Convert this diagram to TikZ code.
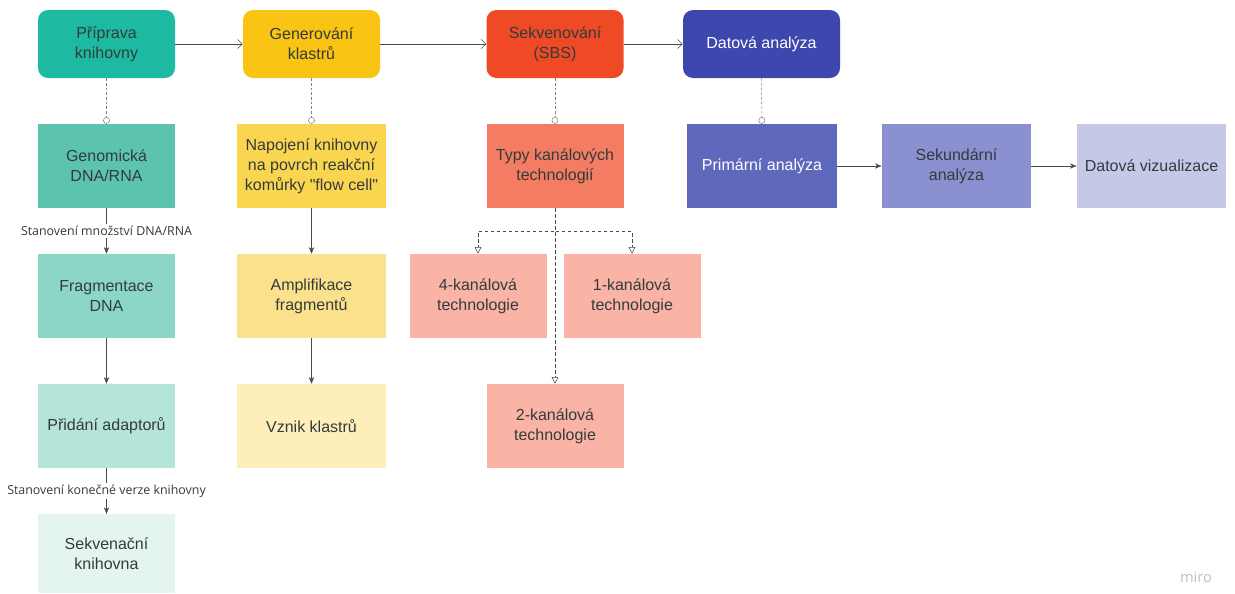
\documentclass[tikz,border=0pt]{standalone}
\usepackage{fontspec}
\setmainfont{Liberation Sans}
\newfontfamily\lblfont{Open Sans}
\usetikzlibrary{arrows.meta,positioning,calc}

\definecolor{cPripr}{HTML}{1DB9A1}
\definecolor{cGener}{HTML}{F9C414}
\definecolor{cSekv}{HTML}{EF4A25}
\definecolor{cDatan}{HTML}{3E47AE}
\definecolor{cGenom}{HTML}{5CC3AF}
\definecolor{cFrag}{HTML}{8CD6C6}
\definecolor{cPrid}{HTML}{B5E4D9}
\definecolor{cKnih}{HTML}{E4F5F1}
\definecolor{cNapoj}{HTML}{FAD650}
\definecolor{cAmpl}{HTML}{FCE18D}
\definecolor{cVznik}{HTML}{FDEEBA}
\definecolor{cTypy}{HTML}{F47C63}
\definecolor{cKanal}{HTML}{F9B4A6}
\definecolor{cPrim}{HTML}{5F69BC}
\definecolor{cSekund}{HTML}{8A90D0}
\definecolor{cVizu}{HTML}{C6C8E8}
\definecolor{cText}{HTML}{333B3B}
\definecolor{cLine}{HTML}{4A4A4A}

\tikzset{
  box/.style = {minimum width=102.75pt, minimum height=63pt, inner sep=2pt,
    align=center, text=cText, font=\fontsize{12}{15}\selectfont},
  topbox/.style = {box, rounded corners=7.5pt, minimum height=51pt},
  widebox/.style = {box, minimum width=112pt},
  flow/.style = {draw=cLine, -{Straight Barb[length=3.5pt,width=7pt]}},
  stepline/.style = {draw=cLine, -{Stealth[length=5pt,width=4pt]}},
  part/.style = {draw=cLine!70, dash pattern=on 2pt off 1.5pt, -{Circle[open,length=5pt]}},
  branch/.style = {draw=cLine, dash pattern=on 2.5pt off 2pt, -{Triangle[open,length=5pt,width=5pt]}},
  note/.style = {fill=white, inner sep=1.5pt, text=cText, font=\lblfont\fontsize{9.3}{11}\selectfont}
}

\begin{document}
\begin{tikzpicture}[x=0.75pt,y=-0.75pt]
  \useasboundingbox (0,0) rectangle (1235,593);

  % hlavni kroky
  \node[topbox, fill=cPripr] (pripr) at (106.5,44) {Příprava\\knihovny};
  \node[topbox, fill=cGener] (gener) at (311.5,44) {Generování\\klastrů};
  \node[topbox, fill=cSekv] (sekv) at (555,44) {Sekvenování\\(SBS)};
  \node[topbox, fill=cDatan, text=white, minimum width=117.75pt] (datan) at (761.5,44) {Datová analýza};

  % priprava knihovny
  \node[box, fill=cGenom] (genom) at (106.5,166) {Genomická\\DNA/RNA};
  \node[box, fill=cFrag] (frag) at (106.5,296) {Fragmentace\\DNA};
  \node[box, fill=cPrid] (prid) at (106.5,426) {Přidání adaptorů};
  \node[box, fill=cKnih, minimum height=59pt] (knih) at (106.5,553.5) {Sekvenační\\knihovna};

  % generovani klastru
  \node[widebox, fill=cNapoj] (napoj) at (311.5,166) {Napojení knihovny\\na povrch reakční\\komůrky \textquotedbl flow cell\textquotedbl};
  \node[widebox, fill=cAmpl] (ampl) at (311.5,296) {Amplifikace\\fragmentů};
  \node[widebox, fill=cVznik] (vznik) at (311.5,426) {Vznik klastrů};

  % sekvenovani
  \node[box, fill=cTypy] (typy) at (555,166) {Typy kanálových\\technologií};
  \node[box, fill=cKanal] (kan4) at (478,296) {4-kanálová\\technologie};
  \node[box, fill=cKanal] (kan1) at (632,296) {1-kanálová\\technologie};
  \node[box, fill=cKanal] (kan2) at (555,426) {2-kanálová\\technologie};

  % datova analyza
  \node[widebox, fill=cPrim, text=white] (prim) at (762,166) {Primární analýza};
  \node[widebox, fill=cSekund] (sekund) at (956.5,166) {Sekundární\\analýza};
  \node[widebox, fill=cVizu] (vizu) at (1151.5,166) {Datová vizualizace};

  % spojnice
  \draw[flow] (pripr) -- (gener);
  \draw[flow] (gener) -- (sekv);
  \draw[flow] (sekv) -- (datan);

  \draw[part] (pripr) -- (genom);
  \draw[part] (gener) -- (napoj);
  \draw[part] (sekv) -- (typy);
  \draw[part] (datan) -- (prim);

  \draw[stepline] (genom) -- node[note] {Stanovení množství DNA/RNA} (frag);
  \draw[stepline] (frag) -- (prid);
  \draw[stepline] (prid) -- node[note] {Stanovení konečné verze knihovny} (knih);

  \draw[stepline] (napoj) -- (ampl);
  \draw[stepline] (ampl) -- (vznik);

  \draw[branch] (typy.south) -- ++(0,23) -| (kan4.north);
  \draw[branch] (typy.south) -- ++(0,23) -| (kan1.north);
  \draw[branch] (typy) -- (kan2);

  \draw[stepline] (prim) -- (sekund);
  \draw[stepline] (sekund) -- (vizu);

  \node[text=black!25, font=\lblfont\fontsize{11}{13}\selectfont] (miro) at (1196,577) {miro};
\end{tikzpicture}
\end{document}
